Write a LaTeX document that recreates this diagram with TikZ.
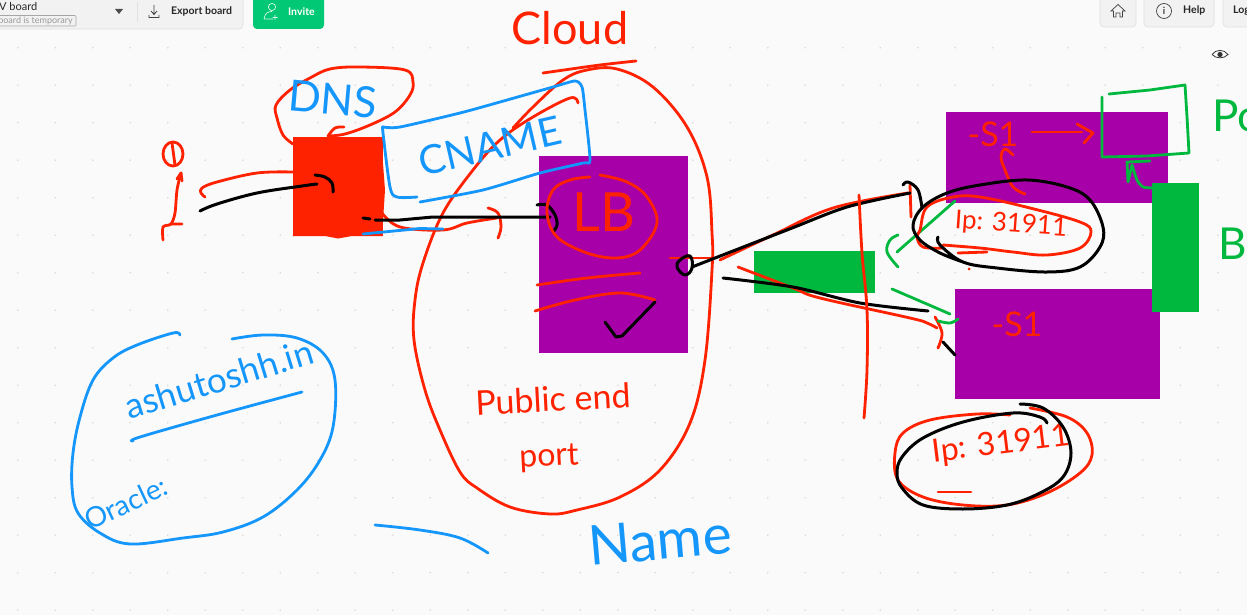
\documentclass[tikz,border=0pt]{standalone}
\usepackage{fontspec}
\setmainfont{Lato}
\usepackage{xcolor}
\definecolor{canvasbg}{RGB}{250,250,250}
\definecolor{griddot}{RGB}{218,218,218}
\definecolor{panelbg}{RGB}{242,242,242}
\definecolor{panelline}{RGB}{224,224,224}
\definecolor{inkred}{RGB}{255,34,0}
\definecolor{inkblue}{RGB}{20,150,250}
\definecolor{inkgreen}{RGB}{0,184,62}
\definecolor{inkblack}{RGB}{0,0,0}
\definecolor{boxpurple}{RGB}{168,0,168}
\definecolor{invitegreen}{RGB}{0,200,117}
\tikzset{
	redink/.style={draw=inkred,line width=2.8pt,line cap=round,line join=round},
	blueink/.style={draw=inkblue,line width=2.8pt,line cap=round,line join=round},
	greenink/.style={draw=inkgreen,line width=2.8pt,line cap=round,line join=round},
	blackink/.style={draw=inkblack,line width=3pt,line cap=round,line join=round},
	solidbox/.style={inner sep=0pt,minimum width=#1},
	hand/.style={font=\fontsize{#1}{#1}\selectfont,inner sep=0pt},
	uibutton/.style={fill=panelbg,draw=panelline,line width=0.7pt,rounded corners=4pt},
	uitext/.style={font=\fontsize{#1}{#1}\selectfont\bfseries,inner sep=0pt,text=black!85},
}
\begin{document}
\begin{tikzpicture}[x=1pt,y=-1pt]
	\useasboundingbox (0,0) rectangle (1247,615);
	\clip (0,0) rectangle (1247,615);
	\fill[canvasbg] (0,0) rectangle (1247,615);
	\foreach \gx in {0,...,33} {
		\foreach \gy in {0,...,15} {
			\fill[griddot] (17.8+37.5*\gx,47.7+37.5*\gy) circle (0.9pt);
		}
	}
	% top bar
	\draw[uibutton] (-10,-10) rectangle (243,29);
	\node[uitext=11,font=\fontsize{11}{11}\selectfont,anchor=west] (boardname) at (-1,6) {V board};
	\draw[draw=black!35,line width=0.6pt,rounded corners=1pt] (-5,15.5) rectangle (76,26);
	\node[font=\fontsize{9}{9}\selectfont,text=black!40,inner sep=0pt,anchor=east] (boardnote) at (73,21) {board is temporary};
	\fill[black!70] (115,9) -- (123,9) -- (119,14) -- cycle;
	\draw[panelline,line width=0.7pt] (137,2) -- (137,22);
	\draw[black!75,line width=0.8pt] (154,5) -- (154,14) (151,11) -- (154,14.5) -- (157,11) (149,15) -- (149,17.5) -- (159,17.5) -- (159,15);
	\node[uitext=10.5,anchor=west] (exportboard) at (171,11.5) {Export board};
	\fill[invitegreen,rounded corners=4pt] (253,-8) rectangle (324,29);
	\draw[white!85!invitegreen,line width=0.7pt] (272,7) circle (3.6pt) (264,19) .. controls (265,13) and (268,11.5) .. (272,11.5) (264,19) -- (273,19) (275,15) -- (275,20) (272.5,17.5) -- (277.5,17.5);
	\node[uitext=10.5,text=white,anchor=west] (invite) at (288,11.5) {Invite};
	\draw[uibutton] (1100,-8) rectangle (1136,27);
	\draw[black!75,line width=0.7pt] (1111,11) -- (1118,4.5) -- (1125,11) -- (1122.5,11) -- (1122.5,17) -- (1120,17) -- (1120,13) -- (1116,13) -- (1116,17) -- (1113.5,17) -- (1113.5,11) -- cycle;
	\draw[uibutton] (1144,-8) rectangle (1214,27);
	\draw[black!75,line width=0.7pt] (1164,11) circle (7.5pt);
	\node[font=\fontsize{10}{10}\selectfont,inner sep=0pt] (helpicon) at (1164,11) {i};
	\node[uitext=10.5,anchor=west] (help) at (1183,10.5) {Help};
	\draw[uibutton] (1223,-8) rectangle (1260,27);
	\node[uitext=10.5,anchor=west] (login) at (1233,10.5) {Log};
	\fill[black!2,rounded corners=4pt] (1206,40) rectangle (1235,68);
	\draw[black!80,line width=0.8pt] (1212,54.5) .. controls (1216,49) and (1224,49) .. (1228,54.5) .. controls (1224,59) and (1216,59) .. (1212,54.5);
	\fill[black!80] (1220,54.5) circle (2.6pt);

	% solid boxes
	\node[solidbox=90pt,minimum height=99pt,fill=inkred] (dnsbox) at (337.5,186.5) {};
	\fill[inkred] (292.5,236) -- (325,236) -- (338,238.5) -- (352,236) -- (382,236) -- (385,190) -- (382,150) -- (382,137) -- cycle;
	\node[solidbox=149pt,minimum height=197pt,fill=boxpurple] (lbbox) at (613.5,254.5) {};
	\node[solidbox=222pt,minimum height=91pt,fill=boxpurple] (pod1box) at (1057,157.5) {};
	\node[solidbox=205pt,minimum height=110pt,fill=boxpurple] (pod2box) at (1057.5,344) {};
	\node[solidbox=121pt,minimum height=42pt,fill=inkgreen] (nodeport) at (814.5,272) {};
	\node[solidbox=47pt,minimum height=129pt,fill=inkgreen] (backend) at (1175.5,247) {};

	% cloud
	\node[hand=45,text=inkred] (cloudlabel) at (570,28) {Cloud};
	\draw[redink] plot[smooth,tension=0.6] coordinates {(543,73) (557,71) (600,65) (636,61)};
	\draw[redink] plot[smooth,tension=0.6] coordinates {(513,128) (533,107) (563,80) (587,70) (617,69) (653,87) (687,127) (707,177) (712,233) (712,270) (705,360) (690,423) (660,470) (620,497) (577,510) (550,514) (510,507) (477,488) (460,472) (440,430) (425,390) (414,340) (415,300) (423,263) (443,213) (473,170) (500,140) (533,117) (570,98) (578,103)};

	% dns
	\draw[redink] plot[smooth,tension=0.6] coordinates {(293,144) (283,135) (277,118) (276,105) (290,90) (310,78) (330,69) (360,67) (405,70) (413,82) (410,95) (395,112) (370,125) (345,134) (328,136)};
	\draw[redink] plot[smooth,tension=0.6] coordinates {(328,136) (335,128) (344,127)};
	\node[hand=43,text=inkblue,rotate=-5] (dnslabel) at (333,99) {DNS};

	% cname
	\draw[blueink] plot[smooth,tension=0.4] coordinates {(383,127) (400,127) (460,113) (500,102) (553,87) (575,81) (582,87) (585,110) (590,160) (583,163) (540,173) (483,190) (420,202)};
	\draw[blueink] plot[smooth,tension=0.5] coordinates {(383,127) (383,133) (390,187) (397,197) (417,197)};
	\node[hand=40,text=inkblue,rotate=13] (cnamelabel) at (490,146) {CNAME};

	% user
	\draw[redink] (173,154) ellipse (10pt and 12pt);
	\draw[redink] (175,165) -- (172,143);
	\draw[redink] plot[smooth,tension=0.5] coordinates {(181,173) (177,190) (175,213) (171,224) (163,227) (163,240)};
	\draw[redink] (171,224) -- (182,224) (177,179) -- (181,173) -- (182,181);
	\draw[redink] plot[smooth,tension=0.6] coordinates {(205,197) (201,193) (202,188) (217,182) (257,173) (293,172)};
	\draw[blackink] plot[smooth,tension=0.6] coordinates {(200,211) (217,204) (257,193) (302,186) (317,184)};
	\draw[blackink] plot[smooth,tension=0.6] coordinates {(315,175) (325,177) (332,183) (333,192)};

	% dns to lb
	\draw[redink] plot[smooth,tension=0.6] coordinates {(382,213) (400,227) (443,230) (467,223) (497,218)};
	\draw[redink] plot[smooth,tension=0.6] coordinates {(488,208) (498,213) (501,227) (498,238)};
	\draw[blueink] (363,234) -- (420,228.5) -- (443,229);
	\draw[blackink] (363,218) -- (370,219) (375,220) -- (400,220) -- (433,217) -- (550,217);
	\draw[blackink] plot[smooth,tension=0.6] coordinates {(537,205) (547,205) (555,215) (557,225) (553,232)};

	% lb
	\draw[redink] plot[smooth,tension=0.6] coordinates {(590,177) (570,180) (553,190) (547,213) (557,237) (587,253) (617,258) (640,250) (657,223) (647,197) (627,182) (600,175)};
	\node[hand=54,text=inkred] (lblabel) at (604,212) {LB};
	\draw[redink] plot[smooth,tension=0.6] coordinates {(537,285) (587,278) (640,273)};
	\draw[redink] plot[smooth,tension=0.6] coordinates {(535,311) (575,300) (620,293) (655,300)};
	\draw[blackink] (605,322) -- (616,337) -- (622,336) -- (655,302);
	\node[hand=34,text=inkred,rotate=3] (publiclabel) at (553,399) {Public end};
	\node[hand=32,text=inkred,rotate=3] (portlabel) at (549,458) {port};

	% lb to nodes
	\draw[redink] (670,258) -- (712,258);
	\draw[blackink] plot[smooth cycle,tension=0.7] coordinates {(677,267) (680,260) (690,256) (692,268) (685,275)};
	\draw[redink] plot[smooth,tension=0.6] coordinates {(720,260) (773,235) (833,208) (908,193)};
	\draw[redink] (910,185) -- (911,217);
	\draw[blackink] plot[smooth,tension=0.5] coordinates {(692,267) (787,230) (847,207) (910,193)};
	\draw[blackink] plot[smooth,tension=0.6] coordinates {(903,185) (908,182) (918,190) (922,208)};
	\draw[redink] plot[smooth,tension=0.6] coordinates {(738,267) (793,288) (820,298) (910,318) (927,323) (937,328)};
	\draw[redink] plot[smooth,tension=0.6] coordinates {(935,317) (942,333) (938,348)};
	\draw[blackink] plot[smooth,tension=0.5] coordinates {(723,278) (793,287) (860,303) (928,311)};
	\draw[blackink] (943,342) -- (955,355);
	\draw[redink] plot[smooth,tension=0.6] coordinates {(859,195) (862,253) (867,310) (867,370) (864,418)};
	\draw[greenink] (892,289) -- (950,314);
	\draw[greenink] plot[smooth,tension=0.6] coordinates {(938,321) (950,323) (958,319)};
	\draw[greenink] (955,201) -- (897,252);
	\draw[greenink] plot[smooth,tension=0.6] coordinates {(898,235) (890,240) (887,252) (898,267)};

	% pod one
	\node[hand=34,text=inkred] (pod1label) at (993,134) {-S1};
	\draw[redink] (1032,132) -- (1082,132);
	\draw[redink] (1077,124) -- (1093,133) -- (1084,143);
	\draw[redink] plot[smooth,tension=0.6] coordinates {(1025,194) (1013,187) (1005,170) (1001,157) (1005,149) (1013,155)};
	\draw[greenink] (1109,94) -- (1150,90) -- (1185,85) -- (1187,117) -- (1189,153) -- (1147,156) -- (1102,157) -- (1102,97);
	\draw[greenink] plot[smooth,tension=0.4] coordinates {(1153,188) (1143,187) (1137,180) (1132,165)};
	\draw[greenink] (1132,165) -- (1128,182) -- (1127,162) -- (1150,161);
	\node[hand=44,text=inkgreen,anchor=west] (podlabel) at (1212,116) {Po};
	\node[hand=44,text=inkgreen,anchor=west] (backendlabel) at (1218,244) {Bu};

	% ip one
	\draw[redink] plot[smooth,tension=0.6] coordinates {(943,248) (923,247) (917,237) (920,230) (927,207) (953,197) (980,197) (1030,208) (1080,222) (1091,232) (1080,248) (1047,255) (1013,252) (980,248) (943,245) (968,247)};
	\draw[redink] (958,253) -- (987,252);
	\fill[inkred] (969,269) circle (1.5pt);
	\node[hand=26,text=inkred,rotate=-4] (ip1label) at (1011,225) {Ip: 31911};
	\draw[blackink] plot[smooth,tension=0.6] coordinates {(938,237) (940,245) (963,262) (997,268) (1047,272) (1080,267) (1100,247) (1103,227) (1090,200) (1067,187) (1027,180) (980,185) (947,193) (923,207) (913,225) (920,240) (940,253) (963,262)};

	% pod two
	\node[hand=34,text=inkred] (pod2label) at (1017,324) {-S1};
	\node[hand=32,text=inkred,rotate=7] (ip2label) at (1001,445) {Ip: 31911};
	\draw[redink] plot[smooth,tension=0.6] coordinates {(1010,415) (977,414) (930,420) (903,433) (895,453) (898,480) (923,497) (963,505) (1007,505) (1047,493) (1080,473) (1092,455) (1087,433) (1067,417) (1030,408)};
	\draw[redink] (938,492) -- (971,492);
	\draw[blackink] plot[smooth,tension=0.6] coordinates {(1020,404) (1043,408) (1063,427) (1071,453) (1063,477) (1040,493) (1007,505) (963,509) (923,505) (902,488) (897,473) (902,457) (923,438) (963,422) (1013,413) (1040,417) (1047,423)};

	% domain note
	\draw[blueink] plot[smooth,tension=0.6] coordinates {(180,335) (173,333) (137,345) (113,358) (93,380) (80,417) (73,453) (72,487) (78,513) (100,533) (130,544) (183,538) (223,532) (263,517) (297,490) (320,460) (333,427) (335,380) (323,353) (297,338) (263,335) (232,339)};
	\node[hand=35,text=inkblue,rotate=17] (domainlabel) at (219,379) {ashutoshh.in};
	\draw[blueink] plot[smooth,tension=0.6] coordinates {(133,441) (140,437) (217,415) (302,392)};
	\node[hand=28,text=inkblue,rotate=25] (oraclelabel) at (126,503) {Oracle:};
	\draw[blueink] plot[smooth,tension=0.6] coordinates {(375,525) (420,530) (460,538) (488,553)};
	\node[hand=55,text=inkblue,rotate=5] (namelabel) at (660,540) {Name};
\end{tikzpicture}
\end{document}
